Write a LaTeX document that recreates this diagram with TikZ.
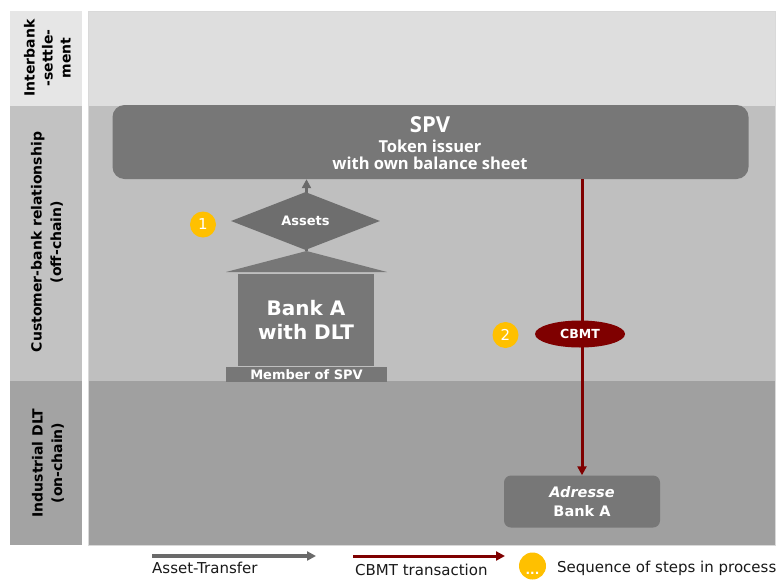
\documentclass[tikz,border=0pt]{standalone}
\usepackage{fontspec}
\setmainfont{DejaVu Sans}
\newfontfamily\spvfont{Open Sans}
\usetikzlibrary{shapes.geometric,arrows.meta}
\definecolor{bandA}{HTML}{DEDEDE}
\definecolor{bandAL}{HTML}{E6E6E6}
\definecolor{bandB}{HTML}{BFBFBF}
\definecolor{bandBL}{HTML}{C2C2C2}
\definecolor{bandC}{HTML}{A0A0A0}
\definecolor{bandCL}{HTML}{A3A3A3}
\definecolor{boxgray}{HTML}{777777}
\definecolor{dkgray}{HTML}{6E6E6E}
\definecolor{cbmtred}{HTML}{7F0000}
\definecolor{stepyel}{HTML}{FFC000}
\definecolor{arrgray}{HTML}{6A6A6A}
\tikzset{
  lanelabel/.style={rotate=90, font=\fontsize{14}{19.5}\selectfont\bfseries, align=center, text=black},
  graybox/.style={fill=boxgray, text=white, inner sep=0pt},
  stepcircle/.style={circle, fill=stepyel, text=white, inner sep=0pt, minimum size=26pt, font=\fontsize{15}{15}\selectfont},
  assetarrow/.style={arrgray, line width=3.5pt, -{Triangle[width=9pt,length=9pt]}},
  cbmtarrow/.style={cbmtred, line width=3pt, -{Triangle[width=9pt,length=9pt]}},
  legendtext/.style={font=\fontsize{15}{15}\selectfont, anchor=base west, inner sep=0pt, text=black!90}
}
\begin{document}
\begin{tikzpicture}[x=1pt,y=-1pt]
\useasboundingbox (0,0) rectangle (782,581);
\fill[white] (0,0) rectangle (782,581);
% left column bands
\fill[bandAL] (10,11) rectangle (82,106);
\fill[bandBL] (10,106) rectangle (82,381);
\fill[bandCL] (10,381) rectangle (82,545);
% main bands
\fill[bandA] (88,11) rectangle (775,106);
\fill[bandB] (88,106) rectangle (775,381);
\fill[bandC] (88,381) rectangle (775,545);
\draw[black!15, line width=0.6pt] (88,11) rectangle (775,545);
% lane labels
\node[lanelabel, font=\fontsize{14}{18}\selectfont\bfseries] (lab1) at (47.5,58) {Interbank\\-settle-\\ment};
\node[lanelabel] (lab2) at (47,242) {Customer-bank relationship\\(off-chain)};
\node[lanelabel] (lab3) at (48,463) {Industrial DLT\\(on-chain)};
% SPV
\node[graybox, rounded corners=12pt, minimum width=636pt, minimum height=74pt] (spv) at (430.5,142) {};
\node[text=white, font=\spvfont\fontsize{22}{22}\selectfont\bfseries] (spvt) at (430,125) {SPV};
\node[text=white, font=\spvfont\fontsize{16.5}{17.5}\selectfont\bfseries, align=center] (spvs) at (430,155) {Token issuer\\with own balance sheet};
% Bank
\coordinate (roofapex) at (306.5,251);
\draw[assetarrow] (roofapex) -- (roofapex |- spv.south);
\fill[boxgray] (226,272) -- (roofapex) -- (387,272) -- cycle;
\node[diamond, fill=dkgray, text=white, inner sep=0pt, minimum width=149pt, minimum height=41pt, font=\fontsize{13}{13}\selectfont\bfseries] (assets) at (305.5,221) {Assets};
\node[graybox, minimum width=136pt, minimum height=92pt, font=\fontsize{20}{24}\selectfont\bfseries, align=center] (bank) at (306,319.5) {Bank A\\with DLT};
\node[graybox, minimum width=161pt, minimum height=15pt, font=\fontsize{13}{13}\selectfont\bfseries] (member) at (306.5,374.5) {Member of SPV};
\node[stepcircle] (s1) at (203,224.5) {1};
% Address
\node[graybox, fill=black!53.5, rounded corners=7pt, minimum width=156pt, minimum height=52pt, align=center, font=\fontsize{14.5}{19}\selectfont\bfseries] (addr) at (582,501.5) {\textit{Adresse}\\Bank A};
\draw[cbmtarrow] (addr.north |- spv.south) -- (addr.north);
\node[ellipse, fill=cbmtred, text=white, inner sep=0pt, minimum width=90pt, minimum height=27pt, font=\fontsize{12.5}{12.5}\selectfont\bfseries] (cbmt) at (580,334) {CBMT};
\node[stepcircle] (s2) at (505.5,335) {2};
% legend
\coordinate (la1) at (152,556);
\coordinate (la2) at (316,556);
\draw[assetarrow] (la1) -- (la2);
\node[legendtext] (lt1) at (152,573) {Asset-Transfer};
\coordinate (lb1) at (353,556);
\coordinate (lb2) at (505,556);
\draw[cbmtarrow] (lb1) -- (lb2);
\node[legendtext] (lt2) at (355,575) {CBMT transaction};
\node[stepcircle, minimum size=27pt, font=\fontsize{14}{14}\selectfont\bfseries] (s3) at (532.5,566) {};
\node[text=white, inner sep=0pt, anchor=base, font=\fontsize{12}{12}\selectfont\bfseries] (s3t) at (532.5,574) {...};
\node[legendtext] (lt3) at (557,572) {Sequence of steps in process};
\end{tikzpicture}
\end{document}
